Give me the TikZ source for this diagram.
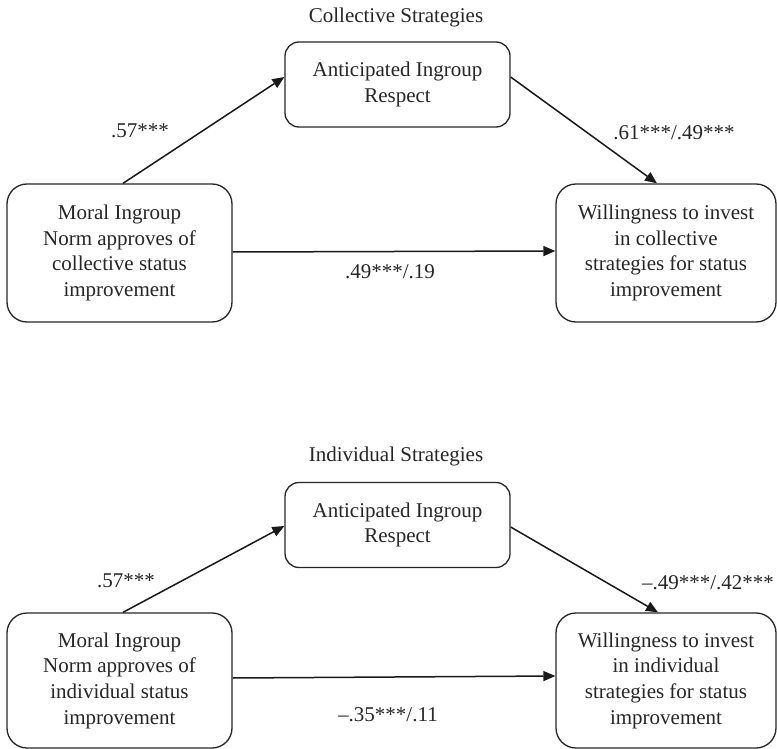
\documentclass[tikz,border=0pt]{standalone}
\usepackage{fontspec}
\setmainfont{Liberation Serif}
\usetikzlibrary{arrows.meta}
\begin{document}
\begin{tikzpicture}[x=1pt,y=-1pt,
  txt/.style={font=\fontsize{21}{25.7}\selectfont, text=black!85, inner sep=0pt},
  midbox/.style={txt, draw=black!85, line width=1.3pt, rounded corners=14pt, minimum width=225pt, minimum height=85pt, align=center},
  sidebox/.style={txt, draw=black!85, line width=1.3pt, rounded corners=20pt, minimum height=138pt, align=center},
  conn/.style={draw=black!90, line width=1.5pt, -{Triangle[length=12pt,width=10pt]}},
  lbl/.style={txt}
]
\useasboundingbox (0,0) rectangle (777,749);

% ---------- Collective strategies ----------
\node[txt] (title1) at (396,17) {Collective Strategies};
\node[midbox] (t1) at (397.5,84.5) {Anticipated Ingroup\\Respect};
\node[sidebox, minimum width=225pt] (l1) at (119.5,253) {Moral Ingroup\\Norm approves of\\collective status\\improvement};
\node[sidebox, minimum width=220pt] (r1) at (666,253) {Willingness to invest\\in collective\\strategies for status\\improvement};

\draw[conn] ([xshift=3.5pt]l1.north) -- ([yshift=7.5pt]t1.west);
\draw[conn] ([yshift=7.5pt]t1.east) -- ([xshift=-9pt]r1.north);
\draw[conn] ([yshift=1pt]l1.east) -- ([yshift=2pt]r1.west);

\node[lbl] (a1) at (140,131) {.57***};
\node[lbl] (b1) at (674,133) {.61***/.49***};
\node[lbl] (c1) at (390,272) {.49***/.19};

% ---------- Individual strategies ----------
\node[txt] (title2) at (396,456) {Individual Strategies};
\node[midbox] (t2) at (397.5,525) {Anticipated Ingroup\\Respect};
\node[sidebox, minimum width=225pt, minimum height=135pt] (l2) at (119.5,680.5) {Moral Ingroup\\Norm approves of\\individual status\\improvement};
\node[sidebox, minimum width=220pt, minimum height=135pt] (r2) at (666,680.5) {Willingness to invest\\in individual\\strategies for status\\improvement};

\draw[conn] ([xshift=3.5pt]l2.north) -- ([yshift=-1pt]t2.west);
\draw[conn] ([yshift=-2pt]t2.east) -- ([xshift=-8pt]r2.north);
\draw[conn] ([yshift=2.5pt]l2.east) -- ([yshift=4.5pt]r2.west);

\node[lbl] (a2) at (126,581) {.57***};
\node[lbl] (b2) at (708,583) {--.49***/.42***};
\node[lbl] (c2) at (388,715) {--.35***/.11};
\end{tikzpicture}
\end{document}
